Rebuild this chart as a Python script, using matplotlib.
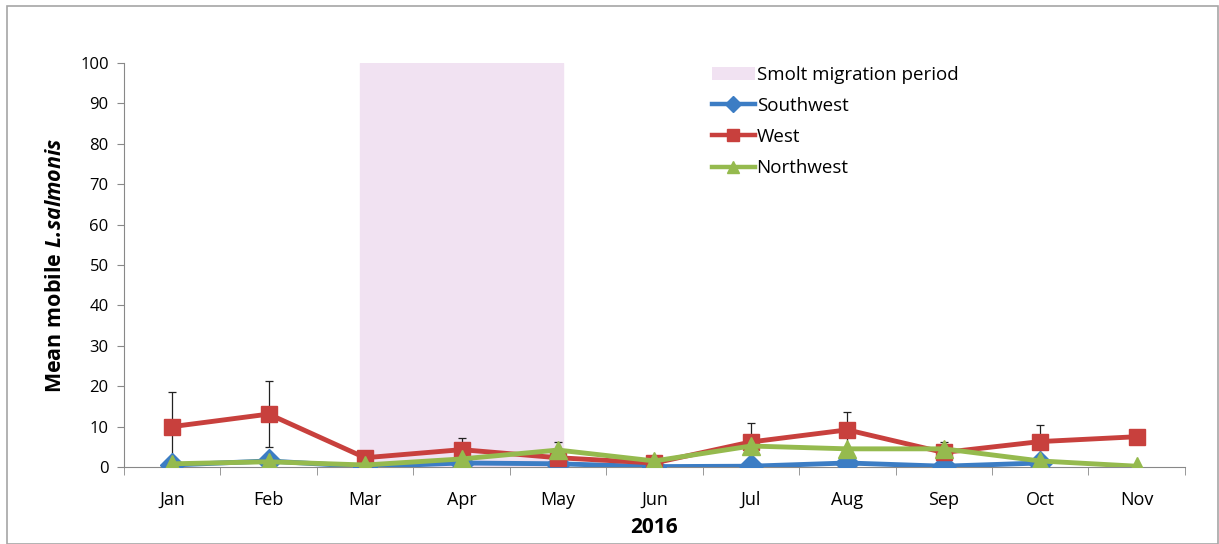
import numpy as np
import matplotlib.pyplot as plt
from matplotlib.patches import Patch, Rectangle
from matplotlib.lines import Line2D

plt.rcParams['font.family'] = ['Open Sans', 'DejaVu Sans']
plt.rcParams['mathtext.fontset'] = 'custom'
plt.rcParams['mathtext.bfit'] = 'Open Sans:italic:bold'

months = ['Jan', 'Feb', 'Mar', 'Apr', 'May', 'Jun', 'Jul', 'Aug', 'Sep', 'Oct', 'Nov']
southwest = [0.5, 1.5, 0.1, 1.0, 0.8, 0.1, 0.2, 1.0, 0.2, 1.0, np.nan]
west = [10.0, 13.1, 2.3, 4.3, 2.3, 1.0, 6.2, 9.2, 3.6, 6.3, 7.5]
west_err = [8.5, 8.2, 0.0, 2.9, 0.0, 0.0, 4.8, 4.4, 0.0, 4.1, 0.0]
northwest = [0.8, 1.3, 0.5, 2.0, 4.2, 1.5, 5.2, 4.5, 4.5, 1.5, 0.2]
northwest_err = [0, 0, 0, 0, 2.0, 0, 0, 0, 1.7, 0, 0]
smolt_start, smolt_end = 1.95, 4.05

c_sw = '#3C7DC4'
c_w = '#C8403D'
c_nw = '#95BA4E'
c_smolt = '#F1E2F2'

fig = plt.figure(figsize=(12.19, 5.44), dpi=100)
fig.patches.append(Rectangle((0.006, 0.0), 0.993, 0.989, transform=fig.transFigure,
                             fill=False, edgecolor='#A6A6A6', linewidth=1.2))
ax = fig.add_axes([0.1017, 0.1415, 0.8703, 0.7427])

x = np.arange(len(months))
ax.axvspan(smolt_start, smolt_end, color=c_smolt, zorder=0)

ax.errorbar(x, west, yerr=west_err, fmt='none', ecolor='#222222', elinewidth=0.9,
            capsize=3, capthick=0.9, zorder=2)
ax.errorbar(x, northwest, yerr=northwest_err, fmt='none', ecolor='#222222', elinewidth=0.9,
            capsize=3, capthick=0.9, zorder=2)

ax.plot(x, southwest, color=c_sw, lw=3.5, marker='D', ms=12, zorder=3)
ax.plot(x, west, color=c_w, lw=3.5, marker='s', ms=12, zorder=4)
ax.plot(x, northwest, color=c_nw, lw=3.5, marker='^', ms=13, zorder=5)

ax.set_xlim(-0.5, len(months) - 0.5)
ax.set_ylim(0, 100)
ax.set_yticks(range(0, 101, 10))
ax.set_xticks(x)
ax.set_xticklabels(months)
ax.set_xticks(np.arange(-0.5, len(months), 1), minor=True)
ax.tick_params(axis='x', which='major', length=0, labelsize=13, pad=17)
ax.tick_params(axis='x', which='minor', length=6, color='#888888', direction='out')
ax.tick_params(axis='y', length=5, color='#888888', labelsize=12, pad=6)
for s in ['top', 'right']:
    ax.spines[s].set_visible(False)
ax.spines['left'].set_color('#888888')
ax.spines['bottom'].set_color('#888888')
ax.spines['bottom'].set_position(('data', 0))

ax.set_ylabel(r'Mean mobile $\mathbfit{L.\!salmonis}$', fontsize=15.5, fontweight='bold', labelpad=10)
ax.set_xlabel('2016', fontsize=15, fontweight='bold', labelpad=6)

handles = [
    Patch(facecolor=c_smolt, edgecolor='none'),
    Line2D([], [], color=c_sw, lw=3.2, marker='D', ms=8),
    Line2D([], [], color=c_w, lw=3.2, marker='s', ms=9),
    Line2D([], [], color=c_nw, lw=3.2, marker='^', ms=9),
]
labels = ['Smolt migration period', 'Southwest', 'West', 'Northwest']
ax.legend(handles, labels, loc='upper left', bbox_to_anchor=(0.538, 1.035), frameon=False,
          fontsize=13.5, handlelength=2.3, handletextpad=0.1, labelspacing=0.7)

fig.savefig('out.png', dpi=100)
